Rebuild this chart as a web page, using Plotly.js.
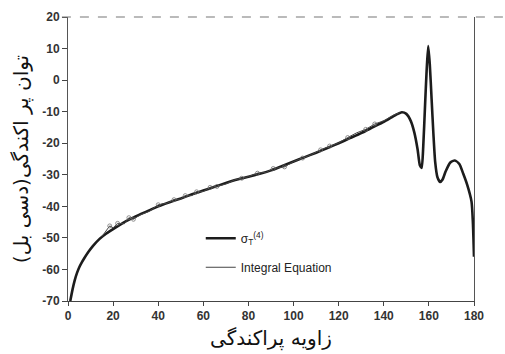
<!DOCTYPE html>
<html>
<head>
<meta charset="utf-8">
<script src="https://cdn.plot.ly/plotly-3.0.1.min.js"></script>
<style>
  html, body { margin: 0; padding: 0; background: #fff; }
  #chart { width: 505px; height: 354px; }
</style>
</head>
<body>
<div id="chart"></div>
<script>
// Scattering angle (degrees) and scattered power (dB) for the fourth-order solution
const angleSigma = [1, 2, 3, 4, 5, 6, 7, 9, 11, 14, 17, 20, 25, 30, 35, 40, 45, 50, 55, 60, 65, 70, 75, 80, 85, 90, 95, 100, 105, 110, 115, 120, 125, 130, 135, 140, 143, 146, 148, 150, 152, 153.5, 155, 156, 156.8, 157.5, 158.3, 159, 159.7, 160.4, 161.2, 162, 162.8, 163.8, 165, 166, 167.5, 169.5, 171.5, 173.5, 175.2, 177, 178.9, 179.5, 180];
const powerSigma = [-70, -66.4, -63.4, -61.1, -59.3, -57.9, -56.7, -54.5, -52.6, -50.3, -48.6, -47.2, -45, -43.2, -41.6, -40, -38.7, -37.5, -36.2, -35, -33.8, -32.6, -31.5, -30.6, -29.7, -28.6, -27.2, -25.8, -24.4, -23, -21.5, -20, -18.4, -16.8, -15, -13.2, -12, -10.8, -10.2, -10.7, -13, -16.5, -22, -27, -27.8, -21, -8, 3, 10.8, 5, -6, -17, -26, -30.8, -32.3, -31.6, -28.8, -26.1, -25.5, -26.6, -29.6, -33.2, -38.5, -45, -56];

// Integral-equation solution (angle, dB), including its small numerical ripples
const angleIE = [15, 18.5, 20, 22, 25, 27, 29, 32, 36, 40, 44, 47, 50, 52, 55, 57, 60, 63, 66, 70, 74, 77, 80, 84, 88, 91, 96, 100, 104, 108, 112, 116, 120, 124, 128, 132, 136, 140, 144, 147];
const powerIE = [-49.6, -46.2, -46.8, -45.4, -45.5, -43.6, -44.1, -42.7, -41.6, -39.5, -39, -37.9, -37.7, -36.6, -36.6, -35.4, -35.3, -34, -33.7, -32.9, -31.6, -31.1, -30.6, -29.5, -29.2, -28, -27.5, -25.8, -24.7, -23.6, -22.1, -20.9, -19.9, -18.2, -16.7, -15.6, -13.9, -12.9, -11.2, -10.3];
const markedAngles = [18.5, 22, 27, 29, 40, 47, 52, 57, 63, 66, 77, 84, 91, 96, 104, 112, 116, 124, 132, 136];
const markedPowers = [-46.2, -45.4, -43.6, -44.1, -39.5, -37.9, -36.6, -35.4, -34, -33.7, -31.1, -29.5, -28, -27.5, -24.7, -22.1, -20.9, -18.2, -15.6, -13.9];

// Axis ticks
const xTicks = [0, 20, 40, 60, 80, 100, 120, 140, 160, 180];
const yTicks = [-70, -60, -50, -40, -30, -20, -10, 0, 10, 20];
const yTickText = ['-70', '-60', '-50', '-40', '-30', '-20', '-10', '0', '10', '20'];

const tickFont = { family: 'Liberation Sans, Arial, sans-serif', size: 12, color: '#333', weight: 'bold' };
const titleFont = { family: 'DejaVu Sans, sans-serif', size: 20, color: '#111' };

const traces = [
  {
    x: angleSigma, y: powerSigma,
    mode: 'lines', name: 'σ<sub>T</sub><sup>(4)</sup>',
    line: { color: '#1c1c1c', width: 2.6, shape: 'spline', smoothing: 0.6 },
    legendgroup: 'a'
  },
  {
    x: angleIE, y: powerIE,
    mode: 'lines', name: 'Integral Equation',
    line: { color: '#444', width: 1 },
    legendgroup: 'b'
  },
  {
    x: markedAngles, y: markedPowers,
    mode: 'markers', name: 'Integral Equation', showlegend: false,
    marker: { symbol: 'circle-open', size: 4, color: '#666', line: { width: 0.7 } },
    legendgroup: 'b'
  }
];

const layout = {
  width: 505, height: 354,
  margin: { l: 68, r: 31, t: 17, b: 53 },
  paper_bgcolor: '#fff', plot_bgcolor: '#fff',
  showlegend: true,
  legend: {
    x: 0.327, y: 0.272, xanchor: 'left', yanchor: 'top',
    bgcolor: 'rgba(0,0,0,0)', traceorder: 'grouped', tracegroupgap: 10,
    font: { family: 'Liberation Sans, Arial, sans-serif', size: 12, color: '#222' }
  },
  xaxis: {
    range: [0, 180], tickvals: xTicks,
    showgrid: false, zeroline: false,
    showline: true, linecolor: '#444', linewidth: 1,
    ticks: 'outside', ticklen: 4, tickcolor: '#444',
    tickfont: tickFont,
    title: { text: 'زاویه پراکندگی', font: titleFont, standoff: 8 }
  },
  yaxis: {
    range: [-70, 20], tickvals: yTicks, ticktext: yTickText,
    showgrid: false, zeroline: false,
    showline: true, linecolor: '#555', linewidth: 1, mirror: true,
    ticks: 'outside', ticklen: 5, tickcolor: '#444',
    tickfont: tickFont,
    title: { text: 'توان پر اکندگی(دسی بل)', font: titleFont, standoff: 8 }
  },
  shapes: [
    {
      type: 'line', xref: 'paper', yref: 'paper',
      x0: -0.015, x1: 1.08, y0: 1, y1: 1,
      line: { color: '#777', width: 1.2, dash: 'dash' }
    }
  ]
};

Plotly.newPlot('chart', traces, layout, { staticPlot: true, displayModeBar: false });
</script>
</body>
</html>
